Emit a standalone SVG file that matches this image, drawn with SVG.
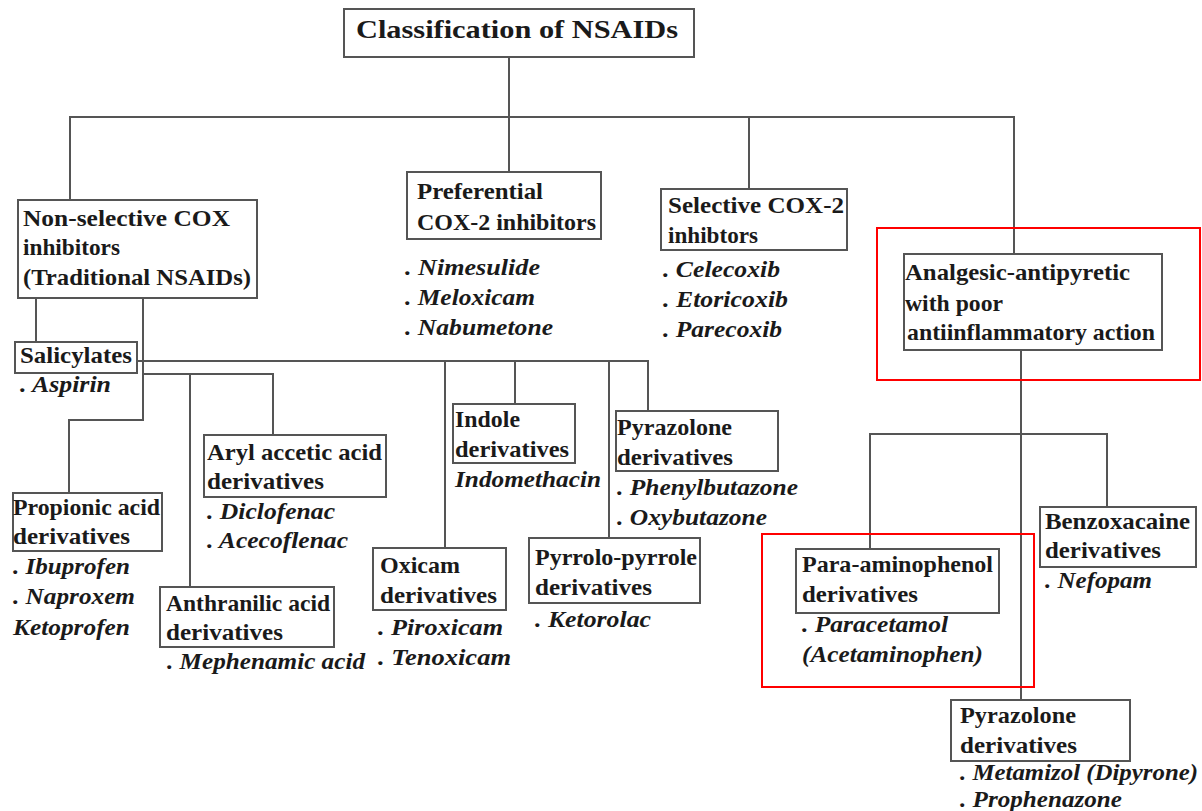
<svg xmlns="http://www.w3.org/2000/svg" width="1202" height="811" viewBox="0 0 1202 811">
  <defs>
    <style>
      .box { fill: #fff; stroke: #555; stroke-width: 2; }
      .edge { fill: none; stroke: #555; stroke-width: 2; }
      .lbl { font-family: "Liberation Serif", "Times New Roman", serif; font-weight: bold; font-size: 24px; fill: #1a1a1a; }
      .title { font-size: 26px; }
      .drug { font-style: italic; font-size: 23px; }
      .mark { fill: none; stroke: #f00; stroke-width: 2; }
    </style>
  </defs>
  <rect width="1202" height="811" fill="#fff"/>

  <!-- tree connectors -->
  <g id="connectors" class="edge">
    <path d="M509 57 V117"/>
    <path d="M70 200 V117 H1014 V254"/>
    <path d="M509 117 V172"/>
    <path d="M749 117 V189"/>
    <path d="M36 298 V342"/>
    <path d="M143 298 V420 H69 V493"/>
    <path d="M137 361 H648 V411"/>
    <path d="M445 361 V548"/>
    <path d="M515 361 V404"/>
    <path d="M609 361 V538"/>
    <path d="M143 374 H273 V435"/>
    <path d="M190 374 V587"/>
    <path d="M1021 350 V700"/>
    <path d="M870 549 V434 H1107 V507"/>
  </g>

  <g id="root">
    <rect class="box" x="344" y="9" width="350" height="48"/>
    <text class="lbl title" x="356" y="38" textLength="322" lengthAdjust="spacingAndGlyphs">Classification of NSAIDs</text>
  </g>

  <g id="nonselective">
    <rect class="box" x="18" y="200" width="239" height="98"/>
    <text class="lbl" x="23" y="226" textLength="207" lengthAdjust="spacingAndGlyphs">Non-selective COX</text>
    <text class="lbl" x="23" y="255" textLength="97" lengthAdjust="spacingAndGlyphs">inhibitors</text>
    <text class="lbl" x="23" y="285" textLength="228" lengthAdjust="spacingAndGlyphs">(Traditional NSAIDs)</text>
  </g>

  <g id="preferential">
    <rect class="box" x="407" y="172" width="194" height="67"/>
    <text class="lbl" x="417" y="199" textLength="126" lengthAdjust="spacingAndGlyphs">Preferential</text>
    <text class="lbl" x="417" y="230" textLength="179" lengthAdjust="spacingAndGlyphs">COX-2 inhibitors</text>
    <text class="lbl drug" x="405" y="275" textLength="135" lengthAdjust="spacingAndGlyphs">. Nimesulide</text>
    <text class="lbl drug" x="405" y="305" textLength="130" lengthAdjust="spacingAndGlyphs">. Meloxicam</text>
    <text class="lbl drug" x="405" y="335" textLength="148" lengthAdjust="spacingAndGlyphs">. Nabumetone</text>
  </g>

  <g id="selective">
    <rect class="box" x="661" y="189" width="186" height="61"/>
    <text class="lbl" x="668" y="213" textLength="176" lengthAdjust="spacingAndGlyphs">Selective COX-2</text>
    <text class="lbl" x="668" y="243" textLength="90" lengthAdjust="spacingAndGlyphs">inhibtors</text>
    <text class="lbl drug" x="663" y="277" textLength="117" lengthAdjust="spacingAndGlyphs">. Celecoxib</text>
    <text class="lbl drug" x="663" y="307" textLength="125" lengthAdjust="spacingAndGlyphs">. Etoricoxib</text>
    <text class="lbl drug" x="663" y="337" textLength="119" lengthAdjust="spacingAndGlyphs">. Parecoxib</text>
  </g>

  <g id="analgesic">
    <rect class="box" x="904" y="254" width="258" height="96"/>
    <text class="lbl" x="905" y="280" textLength="225" lengthAdjust="spacingAndGlyphs">Analgesic-antipyretic</text>
    <text class="lbl" x="905" y="311" textLength="98" lengthAdjust="spacingAndGlyphs">with poor</text>
    <text class="lbl" x="907" y="340" textLength="248" lengthAdjust="spacingAndGlyphs">antiinflammatory action</text>
  </g>

  <g id="salicylates">
    <rect class="box" x="15" y="342" width="122" height="31"/>
    <text class="lbl" x="20" y="363" textLength="112" lengthAdjust="spacingAndGlyphs">Salicylates</text>
    <text class="lbl drug" x="20" y="392" textLength="91" lengthAdjust="spacingAndGlyphs">. Aspirin</text>
  </g>

  <g id="propionic">
    <rect class="box" x="13" y="493" width="149" height="58"/>
    <text class="lbl" x="13" y="515" textLength="147" lengthAdjust="spacingAndGlyphs">Propionic acid</text>
    <text class="lbl" x="13" y="544" textLength="117" lengthAdjust="spacingAndGlyphs">derivatives</text>
    <text class="lbl drug" x="13" y="574" textLength="117" lengthAdjust="spacingAndGlyphs">. Ibuprofen</text>
    <text class="lbl drug" x="13" y="604" textLength="122" lengthAdjust="spacingAndGlyphs">. Naproxem</text>
    <text class="lbl drug" x="13" y="635" textLength="117" lengthAdjust="spacingAndGlyphs">Ketoprofen</text>
  </g>

  <g id="arylacetic">
    <rect class="box" x="204" y="435" width="182" height="62"/>
    <text class="lbl" x="207" y="460" textLength="175" lengthAdjust="spacingAndGlyphs">Aryl accetic acid</text>
    <text class="lbl" x="207" y="489" textLength="117" lengthAdjust="spacingAndGlyphs">derivatives</text>
    <text class="lbl drug" x="207" y="519" textLength="128" lengthAdjust="spacingAndGlyphs">. Diclofenac</text>
    <text class="lbl drug" x="207" y="548" textLength="141" lengthAdjust="spacingAndGlyphs">. Acecoflenac</text>
  </g>

  <g id="anthranilic">
    <rect class="box" x="160" y="587" width="174" height="60"/>
    <text class="lbl" x="166" y="611" textLength="164" lengthAdjust="spacingAndGlyphs">Anthranilic acid</text>
    <text class="lbl" x="166" y="640" textLength="117" lengthAdjust="spacingAndGlyphs">derivatives</text>
    <text class="lbl drug" x="167" y="669" textLength="198" lengthAdjust="spacingAndGlyphs">. Mephenamic acid</text>
  </g>

  <g id="oxicam">
    <rect class="box" x="373" y="548" width="133" height="62"/>
    <text class="lbl" x="380" y="573" textLength="80" lengthAdjust="spacingAndGlyphs">Oxicam</text>
    <text class="lbl" x="380" y="603" textLength="117" lengthAdjust="spacingAndGlyphs">derivatives</text>
    <text class="lbl drug" x="378" y="635" textLength="125" lengthAdjust="spacingAndGlyphs">. Piroxicam</text>
    <text class="lbl drug" x="378" y="665" textLength="133" lengthAdjust="spacingAndGlyphs">. Tenoxicam</text>
  </g>

  <g id="indole">
    <rect class="box" x="453" y="404" width="122" height="59"/>
    <text class="lbl" x="455" y="427" textLength="65" lengthAdjust="spacingAndGlyphs">Indole</text>
    <text class="lbl" x="455" y="457" textLength="114" lengthAdjust="spacingAndGlyphs">derivatives</text>
    <text class="lbl drug" x="455" y="487" textLength="146" lengthAdjust="spacingAndGlyphs">Indomethacin</text>
  </g>

  <g id="pyrazolone-nsaid">
    <rect class="box" x="616" y="411" width="162" height="60"/>
    <text class="lbl" x="617" y="435" textLength="115" lengthAdjust="spacingAndGlyphs">Pyrazolone</text>
    <text class="lbl" x="617" y="465" textLength="116" lengthAdjust="spacingAndGlyphs">derivatives</text>
    <text class="lbl drug" x="617" y="495" textLength="181" lengthAdjust="spacingAndGlyphs">. Phenylbutazone</text>
    <text class="lbl drug" x="617" y="525" textLength="150" lengthAdjust="spacingAndGlyphs">. Oxybutazone</text>
  </g>

  <g id="pyrrolopyrrole">
    <rect class="box" x="529" y="538" width="171" height="65"/>
    <text class="lbl" x="535" y="565" textLength="162" lengthAdjust="spacingAndGlyphs">Pyrrolo-pyrrole</text>
    <text class="lbl" x="535" y="595" textLength="117" lengthAdjust="spacingAndGlyphs">derivatives</text>
    <text class="lbl drug" x="535" y="627" textLength="116" lengthAdjust="spacingAndGlyphs">. Ketorolac</text>
  </g>

  <g id="paraaminophenol">
    <rect class="box" x="796" y="549" width="203" height="64"/>
    <text class="lbl" x="802" y="572" textLength="191" lengthAdjust="spacingAndGlyphs">Para-aminophenol</text>
    <text class="lbl" x="802" y="602" textLength="116" lengthAdjust="spacingAndGlyphs">derivatives</text>
    <text class="lbl drug" x="802" y="632" textLength="146" lengthAdjust="spacingAndGlyphs">. Paracetamol</text>
    <text class="lbl drug" x="802" y="662" textLength="181" lengthAdjust="spacingAndGlyphs">(Acetaminophen)</text>
  </g>

  <g id="benzoxacaine">
    <rect class="box" x="1040" y="507" width="156" height="60"/>
    <text class="lbl" x="1045" y="529" textLength="145" lengthAdjust="spacingAndGlyphs">Benzoxacaine</text>
    <text class="lbl" x="1045" y="558" textLength="116" lengthAdjust="spacingAndGlyphs">derivatives</text>
    <text class="lbl drug" x="1045" y="588" textLength="107" lengthAdjust="spacingAndGlyphs">. Nefopam</text>
  </g>

  <g id="pyrazolone-analgesic">
    <rect class="box" x="951" y="700" width="179" height="61"/>
    <text class="lbl" x="960" y="723" textLength="116" lengthAdjust="spacingAndGlyphs">Pyrazolone</text>
    <text class="lbl" x="960" y="753" textLength="117" lengthAdjust="spacingAndGlyphs">derivatives</text>
    <text class="lbl drug" x="960" y="780" textLength="238" lengthAdjust="spacingAndGlyphs">. Metamizol (Dipyrone)</text>
    <text class="lbl drug" x="960" y="807" textLength="162" lengthAdjust="spacingAndGlyphs">. Prophenazone</text>
  </g>

  <!-- red highlight frames -->
  <g id="highlights">
    <rect class="mark" x="877" y="228" width="323" height="152"/>
    <rect class="mark" x="762" y="534" width="272" height="153"/>
  </g>
</svg>
